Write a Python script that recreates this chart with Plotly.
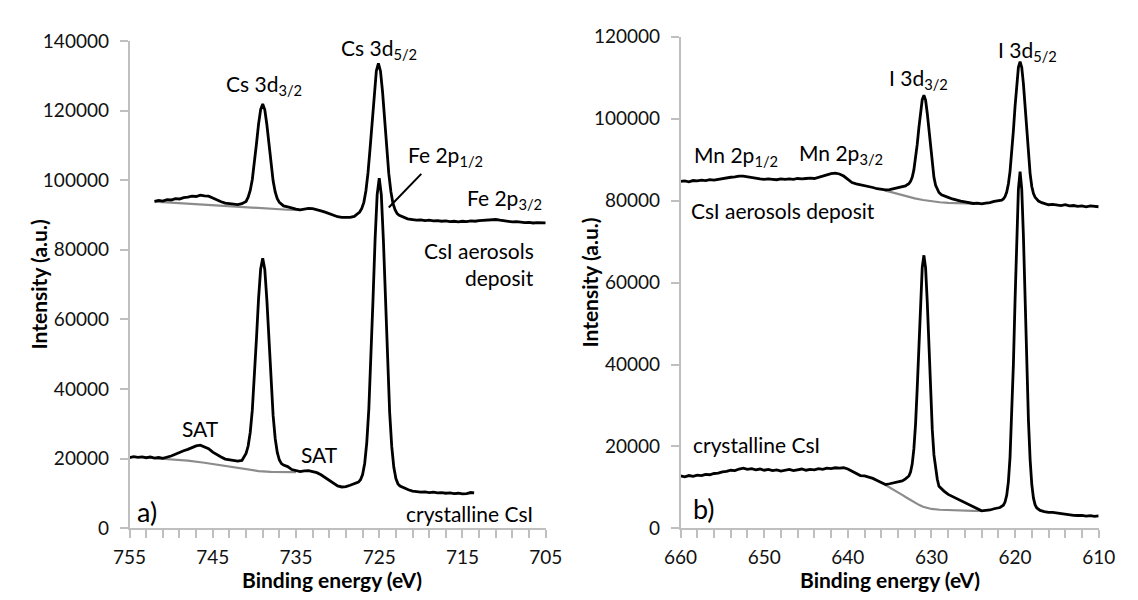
import plotly.graph_objects as go

# ---------------- Cs 3d region (panel a) ----------------
CS_DEPOSIT_E = [752.0, 751.5, 751.0, 750.5, 750.0, 749.5, 749.0, 748.5, 748.0, 747.5, 747.0, 746.5, 746.0,
                745.5, 745.0, 744.5, 744.0, 743.5, 743.0, 742.5, 742.0, 741.5, 741.0, 740.75, 740.5, 740.25,
                740.0, 739.75, 739.5, 739.25, 739.0, 738.75, 738.5, 738.25, 738.0, 737.75, 737.5, 737.25,
                737.0, 736.75, 736.5, 736.0, 735.5, 735.0, 734.5, 734.0, 733.5, 733.0, 732.5, 732.0, 731.5,
                731.0, 730.5, 730.0, 729.5, 729.0, 728.5, 728.0, 727.6, 727.35, 727.1, 726.85, 726.6, 726.35,
                726.1, 725.85, 725.6, 725.35, 725.1, 724.85, 724.6, 724.35, 724.1, 723.85, 723.6, 723.35,
                723.1, 722.85, 722.6, 722.1, 721.6, 721.0, 720.5, 720.0, 719.5, 719.0, 718.5, 718.0, 717.5,
                717.0, 716.5, 716.0, 715.5, 715.0, 714.5, 714.0, 713.5, 713.0, 712.5, 712.0, 711.5, 711.0,
                710.5, 710.0, 709.5, 709.0, 708.5, 708.0, 707.5, 707.0, 706.5, 706.0, 705.5, 705.0]
CS_DEPOSIT_I = [93900, 94200, 94000, 94400, 94300, 94700, 94600, 95000, 95100, 95400, 95300, 95700, 95500,
                95400, 94900, 94300, 93800, 93400, 93300, 93100, 93000, 93250, 93900, 95100, 97040, 100210,
                104830, 110450, 116080, 120290, 121850, 120200, 115900, 110200, 104500, 99800, 96600, 94700,
                93600, 93000, 92600, 92300, 91900, 91700, 91500, 91700, 91900, 91800, 91600, 91200, 90800,
                90300, 89900, 89500, 89300, 89200, 89300, 89600, 90300, 90840, 91860, 93630, 96960, 102060,
                109150, 117360, 125430, 131370, 133540, 131300, 125300, 117200, 108900, 101800, 96700, 93300,
                91500, 90400, 89900, 89300, 88900, 88700, 88500, 88600, 88400, 88500, 88300, 88400, 88200,
                88300, 88100, 88200, 88000, 88200, 88100, 88300, 88200, 88400, 88500, 88700, 88800, 88700,
                88500, 88300, 88200, 88000, 88100, 87900, 87800, 87900, 87700, 87800, 87700, 87750]

CS_CRYSTAL_E = [755.0, 754.5, 754.0, 753.5, 753.0, 752.5, 752.0, 751.5, 751.0, 750.5, 750.0, 749.5, 749.0,
                748.5, 748.0, 747.5, 747.0, 746.5, 746.0, 745.5, 745.0, 744.5, 744.0, 743.5, 743.0, 742.5,
                742.0, 741.5, 741.0, 740.75, 740.5, 740.25, 740.0, 739.75, 739.5, 739.25, 739.0, 738.75,
                738.5, 738.25, 738.0, 737.75, 737.5, 737.25, 737.0, 736.75, 736.5, 736.0, 735.5, 735.0,
                734.5, 734.0, 733.5, 733.0, 732.5, 732.0, 731.5, 731.0, 730.5, 730.0, 729.5, 729.0, 728.5,
                728.0, 727.5, 727.25, 727.0, 726.75, 726.5, 726.25, 726.0, 725.75, 725.5, 725.25, 725.0,
                724.75, 724.5, 724.25, 724.0, 723.75, 723.5, 723.25, 723.0, 722.75, 722.5, 722.0, 721.5,
                721.0, 720.5, 720.0, 719.5, 719.0, 718.5, 718.0, 717.5, 717.0, 716.5, 716.0, 715.5, 715.0,
                714.5, 714.0, 713.6]
CS_CRYSTAL_I = [20340, 20600, 20400, 20550, 20300, 20500, 20200, 20350, 20100, 20400, 20800, 21300, 21900,
                22300, 22700, 23200, 23700, 23900, 23500, 22900, 21900, 21100, 20500, 19900, 19700, 19400,
                19300, 19500, 21550, 23650, 27550, 33950, 43260, 54610, 65960, 74460, 77600, 74350,
                65560, 53820, 42080, 32450, 25830, 21800, 19630, 18600, 18180, 17760, 16900, 16600,
                16300, 16500, 16600, 16300, 16000, 15400, 14600, 13700, 12900, 12200, 11900, 12000, 12400,
                12800, 13300, 13970, 15470, 18650, 24580, 34300, 48440, 65680, 82920, 95830, 100600,
                95760, 82680, 65210, 47740, 33400, 23540, 17540, 14320, 12790, 12160, 11540, 11100,
                10700, 10500, 10400, 10500, 10300, 10400, 10200, 10300, 10100, 10200, 10000, 10100, 9900,
                10000, 10300, 10200]

CS_DEPOSIT_BG_E = [752, 750, 748, 746, 744, 742, 740, 738, 736, 734.4]
CS_DEPOSIT_BG_I = [93850, 93550, 93200, 92850, 92500, 92200, 91950, 91700, 91500, 91400]
CS_CRYSTAL_BG_E = [752, 750, 748, 746, 744, 742, 740.5, 739.5, 738, 736.5, 735]
CS_CRYSTAL_BG_I = [20150, 19850, 19450, 18850, 18150, 17350, 16800, 16450, 16250, 16200, 16150]

# ---------------- I 3d region (panel b) ----------------
I_DEPOSIT_E = [660.0, 659.5, 659.0, 658.5, 658.0, 657.5, 657.0, 656.5, 656.0, 655.5, 655.0, 654.5, 654.0,
               653.5, 653.0, 652.5, 652.0, 651.5, 651.0, 650.5, 650.0, 649.5, 649.0, 648.5, 648.0, 647.5,
               647.0, 646.5, 646.0, 645.5, 645.0, 644.5, 644.0, 643.5, 643.0, 642.5, 642.0, 641.5, 641.0,
               640.5, 640.0, 639.5, 639.0, 638.5, 638.0, 637.5, 637.0, 636.5, 636.0, 635.5, 635.0, 634.5,
               634.0, 633.5, 633.1, 632.9, 632.7, 632.5, 632.3, 632.1, 631.9, 631.7, 631.5, 631.3, 631.1,
               630.9, 630.7, 630.5, 630.3, 630.1, 629.9, 629.7, 629.5, 629.3, 629.1, 628.8, 628.5, 628.0,
               627.5, 627.0, 626.5, 626.0, 625.5, 625.0, 624.5, 624.0, 623.5, 623.0, 622.5, 622.0, 621.6,
               621.4, 621.2, 621.0, 620.8, 620.6, 620.4, 620.2, 620.0, 619.8, 619.6, 619.4, 619.2, 619.0,
               618.8, 618.6, 618.4, 618.2, 618.0, 617.8, 617.6, 617.4, 617.2, 616.8, 616.5, 616.0, 615.5,
               615.0, 614.5, 614.0, 613.5, 613.0, 612.5, 612.0, 611.5, 611.0, 610.5, 610.0]
I_DEPOSIT_I = [84700, 84800, 84600, 84900, 84800, 85000, 84900, 85100, 85000, 85200, 85300, 85500, 85700,
               85800, 86000, 86000, 85800, 85600, 85400, 85300, 85200, 85300, 85200, 85100, 85300, 85200,
               85300, 85200, 85400, 85300, 85400, 85500, 85400, 85700, 86000, 86300, 86600, 86700, 86500,
               86000, 85200, 84400, 84100, 83900, 83600, 83400, 83200, 82900, 82700, 82600, 82700, 82900,
               83100, 83300, 83600, 83880, 84120, 84680, 85700, 87500, 90160, 93710, 97820, 101750, 104630,
               105700, 104530, 101330, 97040, 92400, 88620, 85690, 83720, 82590, 81980, 81400, 81100, 80800,
               80400, 80100, 79900, 79700, 79500, 79300, 79400, 79200, 79400, 79500, 79800, 80000, 80120,
               80390, 80970, 82100, 84060, 87150, 91570, 97090, 103030, 108580, 112530, 113900, 112500, 108480,
               102800, 96750, 91120, 86600, 83450, 81700, 80800, 80300, 79900, 79500, 79300, 79000, 79100,
               78900, 78800, 79000, 78700, 78800, 78600, 78700, 78500, 78700, 78600, 78500]

I_CRYSTAL_E = [660.0, 659.5, 659.0, 658.5, 658.0, 657.5, 657.0, 656.5, 656.0, 655.5, 655.0, 654.5, 654.0,
               653.5, 653.0, 652.5, 652.0, 651.5, 651.0, 650.5, 650.0, 649.5, 649.0, 648.5, 648.0, 647.5,
               647.0, 646.5, 646.0, 645.5, 645.0, 644.5, 644.0, 643.5, 643.0, 642.5, 642.0, 641.5, 641.0,
               640.5, 640.0, 639.5, 639.0, 638.5, 638.0, 637.5, 637.0, 636.5, 636.0, 635.5, 635.0, 634.5,
               634.0, 633.5, 633.1, 632.9, 632.7, 632.5, 632.3, 632.1, 631.9, 631.7, 631.5, 631.3, 631.1,
               630.9, 630.7, 630.5, 630.3, 630.1, 629.9, 629.7, 629.5, 629.3, 629.1, 628.8, 628.5, 628.0,
               627.5, 627.0, 626.5, 626.0, 625.5, 625.0, 624.5, 624.0, 623.5, 623.0, 622.5, 622.0, 621.8,
               621.4, 621.2, 621.0, 620.8, 620.6, 620.4, 620.2, 620.0, 619.8, 619.6, 619.4, 619.2, 619.0,
               618.8, 618.6, 618.4, 618.2, 618.0, 617.8, 617.6, 617.4, 617.0, 616.5, 616.0, 615.5, 615.0,
               614.5, 614.0, 613.5, 613.0, 612.5, 612.0, 611.5, 611.0, 610.5, 610.0]
I_CRYSTAL_I = [12800, 12600, 12900, 12700, 13000, 12900, 13200, 13100, 13400, 13500, 13800, 13900, 14200,
               14100, 14500, 14700, 14400, 14600, 14300, 14500, 14200, 14400, 14100, 14300, 14000, 14200,
               14400, 14100, 14300, 14500, 14200, 14400, 14300, 14600, 14400, 14700, 14600, 14800, 14700,
               14800, 14500, 13900, 13300, 12900, 12800, 12500, 12200, 11700, 11100, 10700, 10900, 11100,
               11300, 11600, 12100, 12410, 12800, 13730, 15710, 19390, 25440, 34230, 44940, 55660, 63680,
               66650, 63590, 55320, 44270, 33230, 24160, 17930, 14140, 12000, 10300, 9600, 9100, 8300,
               7800, 7200, 6800, 6200, 5700, 5100, 4600, 4300, 4400, 4500, 4800, 5000, 5100,
               5670, 6420, 8070, 11370, 17390, 26880, 40080, 55750, 71430, 82810, 87100, 82770, 71290,
               55480, 39680, 26360, 16800, 10720, 7390, 5730, 4980, 4400, 4100, 3900, 3900, 3750,
               3500, 3400, 3300, 3200, 3150, 3200, 3000, 3100, 2950, 3050]

I_DEPOSIT_BG_E = [635.6, 635, 634, 633, 632, 631, 630, 629, 628, 626.5, 625, 623.8]
I_DEPOSIT_BG_I = [82500, 82150, 81600, 81050, 80550, 80150, 79800, 79600, 79450, 79350, 79250, 79200]
I_CRYSTAL_BG_E = [635.5, 635, 634.5, 634, 633.5, 633, 632.5, 632, 631.5, 631, 630.5, 630, 629, 628,
                  627, 626, 625, 623.8]
I_CRYSTAL_BG_I = [10600, 10050, 9500, 8850, 8200, 7550, 6900, 6300, 5750, 5300, 4950, 4750, 4550, 4450,
                  4400, 4350, 4300, 4250]

# ---------------- figure ----------------
W, H = 1138, 600
BLACK = "#000000"
GREY = "#8c8c8c"
AXIS = "#bfbfbf"
FONT = "Lato"


def px_x(p):
    return p / W


def px_y(p):
    return (H - p) / H


fig = go.Figure()


def add_line(x, y, xa, ya, color, width):
    fig.add_trace(go.Scatter(x=x, y=y, xaxis=xa, yaxis=ya, mode="lines",
                             line=dict(color=color, width=width), hoverinfo="skip",
                             showlegend=False))


add_line(CS_DEPOSIT_BG_E, CS_DEPOSIT_BG_I, "x", "y", GREY, 2.2)
add_line(CS_CRYSTAL_BG_E, CS_CRYSTAL_BG_I, "x", "y", GREY, 2.2)
add_line(CS_DEPOSIT_E, CS_DEPOSIT_I, "x", "y", BLACK, 2.8)
add_line(CS_CRYSTAL_E, CS_CRYSTAL_I, "x", "y", BLACK, 2.8)
add_line(I_DEPOSIT_BG_E, I_DEPOSIT_BG_I, "x2", "y2", GREY, 2.2)
add_line(I_CRYSTAL_BG_E, I_CRYSTAL_BG_I, "x2", "y2", GREY, 2.2)
add_line(I_DEPOSIT_E, I_DEPOSIT_I, "x2", "y2", BLACK, 2.8)
add_line(I_CRYSTAL_E, I_CRYSTAL_I, "x2", "y2", BLACK, 2.8)

tick_font = dict(family=FONT, size=19, color="#111111")
common = dict(showline=True, linecolor=AXIS, linewidth=1.5, ticks="outside", ticklen=8,
              tickcolor=AXIS, tickwidth=1.5, showgrid=False, zeroline=False, tickfont=tick_font)

fig.update_layout(
    width=W, height=H,
    margin=dict(l=0, r=0, t=0, b=0),
    paper_bgcolor="white", plot_bgcolor="white",
    xaxis=dict(common, domain=[px_x(116), px_x(545)], range=[755, 705], tick0=5, dtick=10,
               anchor="y", ticklabelstandoff=3,
               minor=dict(tick0=5, dtick=2, ticks="outside", ticklen=8, tickcolor=AXIS, tickwidth=1.5)),
    yaxis=dict(common, domain=[px_y(537), px_y(30)], range=[0, 140000], dtick=20000,
               tickformat="d", anchor="x", ticklabelstandoff=7),
    xaxis2=dict(common, domain=[px_x(684), px_x(1115)], range=[660, 610], tick0=0, dtick=10,
                anchor="y2", ticklabelstandoff=3,
                minor=dict(tick0=0, dtick=2, ticks="outside", ticklen=8, tickcolor=AXIS, tickwidth=1.5)),
    yaxis2=dict(common, domain=[px_y(537), px_y(25.7)], range=[0, 120000], dtick=20000,
                tickformat="d", anchor="x2", ticklabelstandoff=7),
)

LABEL = dict(family=FONT, size=21, color=BLACK)
TITLE = dict(family=FONT, size=21, color=BLACK)


def label(text, x, y, xref, yref, xanchor="center", size=None):
    f = dict(LABEL)
    if size:
        f["size"] = size
    fig.add_annotation(text=text, x=x, y=y, xref=xref, yref=yref, showarrow=False,
                       xanchor=xanchor, yanchor="middle", font=f)


# panel a labels
label("Cs 3d<sub>3/2</sub>", 738.9, 127200, "x", "y")
label("Cs 3d<sub>5/2</sub>", 725.0, 137700, "x", "y")
label("Fe 2p<sub>1/2</sub>", 717.0, 107050, "x", "y")
label("Fe 2p<sub>3/2</sub>", 710.0, 94470, "x", "y")
label("CsI aerosols", 706.2, 79660, "x", "y", xanchor="right")
label("deposit", 706.2, 71930, "x", "y", xanchor="right")
label("SAT", 746.5, 28600, "x", "y")
label("SAT", 732.2, 21350, "x", "y")
label("a)", 754.4, 5000, "x", "y", xanchor="left", size=27)
label("crystalline CsI", 706.3, 4300, "x", "y", xanchor="right")

# pointer from the Fe 2p1/2 label to the deposit curve
fig.add_shape(type="line", xref="x", yref="y", x0=719.95, y0=101800, x1=723.85, y1=92130,
              line=dict(color=BLACK, width=2))

# panel b labels
label("I 3d<sub>3/2</sub>", 631.5, 109700, "x2", "y2")
label("I 3d<sub>5/2</sub>", 618.5, 116600, "x2", "y2")
label("Mn 2p<sub>1/2</sub>", 653.4, 90800, "x2", "y2")
label("Mn 2p<sub>3/2</sub>", 640.85, 91400, "x2", "y2")
label("CsI aerosols deposit", 659.0, 77650, "x2", "y2", xanchor="left")
label("crystalline CsI", 658.7, 20400, "x2", "y2", xanchor="left")
label("b)", 658.7, 4900, "x2", "y2", xanchor="left", size=27)

# axis titles
for xc, yc, txt, ang in [(22, 283, "Intensity (a.u.)", -90), (590, 281, "Intensity (a.u.)", -90),
                         (325, 590, "Binding energy (eV)", 0), (900, 590, "Binding energy (eV)", 0)]:
    fig.add_annotation(text="<b>" + txt + "</b>", x=px_x(xc), y=px_y(yc), xref="paper", yref="paper",
                       showarrow=False, textangle=ang, xanchor="center", yanchor="middle", font=TITLE)

fig.write_html("out.html")
